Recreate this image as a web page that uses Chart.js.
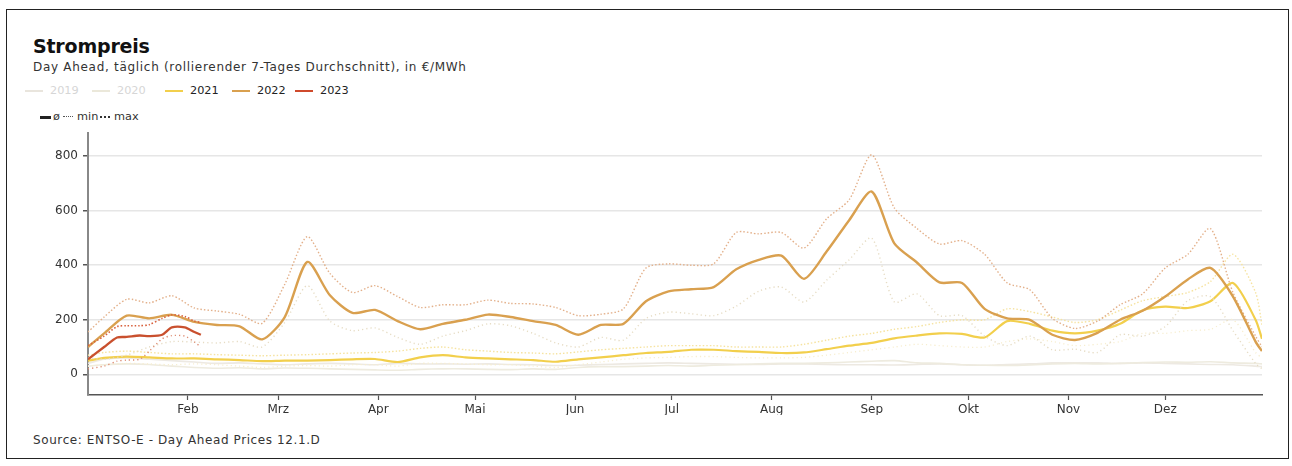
<!DOCTYPE html>
<html><head><meta charset="utf-8">
<script src="https://cdn.jsdelivr.net/npm/chart.js@4.4.1/dist/chart.umd.min.js"></script>
<style>
html,body{margin:0;padding:0;background:#fff;}
body{width:1292px;height:466px;position:relative;overflow:hidden;font-family:"DejaVu Sans",sans-serif;color:#222;}
#frame{position:absolute;left:6px;top:9px;width:1283px;height:450px;border:1px solid #222;box-sizing:border-box;}
#title{position:absolute;left:33px;top:34px;font-weight:bold;font-size:19px;line-height:24px;color:#111;letter-spacing:-0.2px;}
#sub{position:absolute;left:33px;top:59px;font-size:12px;line-height:16px;color:#333;white-space:nowrap;letter-spacing:0.7px;}
.leg{position:absolute;font-size:11.3px;line-height:14px;white-space:nowrap;}
.sw{position:absolute;height:0;}
#src{position:absolute;left:33px;top:433px;font-size:12px;line-height:14px;color:#333;letter-spacing:0.6px;white-space:nowrap;}
#wrap{position:absolute;left:0;top:0;width:1292px;height:466px;}
</style></head>
<body>
<div id="frame"></div>
<div id="title">Strompreis</div>
<div id="sub">Day Ahead, täglich (rollierender 7-Tages Durchschnitt), in €/MWh</div>
<div id="legend"></div>
<div id="src">Source: ENTSO-E - Day Ahead Prices 12.1.D</div>
<div id="wrap"><canvas id="c" width="1292" height="466"></canvas></div>
<script>
// ---- data (day of year, €/MWh) ----
const days = [0,5,12,19,26,33,40,47,54,61,68,75,82,89,96,103,110,117,124,131,138,145,152,159,166,173,180,187,194,201,208,215,222,229,236,243,250,257,264,271,278,285,292,299,306,313,320,327,334,341,348,355,362,364];
const avg2022 = [100,150,215,205,218,192,181,176,128,210,412,290,225,236,195,165,185,200,219,210,195,181,145,181,185,268,304,312,320,385,420,435,350,450,565,670,480,410,337,335,240,205,200,145,126,152,200,233,285,348,390,285,120,85];
const max2022 = [155,210,275,262,288,243,232,220,187,330,505,370,300,325,285,245,255,255,272,260,258,245,215,220,240,390,405,400,405,520,515,520,463,570,640,805,610,535,478,490,440,335,310,205,168,195,255,295,390,440,535,300,140,100];
const min2022 = [60,55,70,100,120,118,115,120,100,190,325,195,160,170,135,110,140,160,185,178,150,115,100,135,125,205,228,222,215,250,305,320,265,345,420,500,265,295,215,215,140,105,140,90,92,80,145,140,175,270,285,160,40,20];
const avg2021 = [50,60,65,62,58,58,55,52,48,50,50,52,55,56,45,62,70,62,58,55,52,46,55,62,70,78,82,90,90,85,82,78,80,92,105,115,132,142,150,148,135,195,185,160,150,160,185,235,248,243,268,335,200,130];
const max2021 = [70,80,85,80,75,75,72,70,68,70,72,75,78,80,85,95,100,90,85,80,78,75,82,90,95,100,105,105,105,100,100,100,110,125,140,150,165,175,190,200,200,240,230,210,190,200,235,270,285,300,340,440,300,180];
const min2021 = [30,35,40,38,35,38,35,30,25,30,32,30,35,35,30,40,40,38,35,35,30,25,35,45,55,60,62,65,65,62,60,60,62,70,80,90,100,110,105,100,100,120,130,120,105,110,120,150,150,160,165,200,80,60];
const avg2020 = [30,35,38,36,30,25,22,24,20,23,22,20,18,16,15,18,20,20,18,17,20,18,25,28,28,30,32,30,33,35,38,40,40,42,45,48,50,42,40,35,33,32,34,38,40,38,40,43,45,44,46,42,40,38];
const avg2019 = [40,55,60,55,50,45,40,42,38,35,38,40,38,35,40,38,38,37,38,36,35,32,33,36,38,40,42,40,38,37,36,38,38,36,35,35,34,36,38,35,33,36,38,42,42,42,40,42,40,38,36,35,30,28];
const days2023 = [0,5,9,12,16,19,23,26,30,33,35];
const avg2023 = [55,100,135,137,142,140,145,172,172,155,145];
const max2023 = [105,140,175,178,178,182,205,218,212,195,190];
const min2023 = [20,30,48,52,55,85,130,142,140,118,100];
const monthStarts = [31,59,90,120,151,181,212,243,273,304,334];
const monthLabels = ['Feb','Mrz','Apr','Mai','Jun','Jul','Aug','Sep','Okt','Nov','Dez'];
const yTicks = [0,200,400,600,800];
const years = ['2019','2020','2021','2022','2023'];
const yearColors = ['#e9e5dd','#ebe8da','#f2cf4c','#d9a04f','#cf4a2c'];
const yearText = ['#d6d6d6','#d6d6d6','#222','#222','#222'];

// ---- legend ----
const leg = document.getElementById('legend');
const textX = [50,117,190,257,320];
years.forEach((y,i)=>{
  const sw = document.createElement('div');
  sw.className='sw';
  sw.style.cssText = `left:${textX[i]-25}px;top:90px;width:18px;border-top:2px solid ${yearColors[i]};`;
  leg.appendChild(sw);
  const t = document.createElement('div');
  t.className='leg'; t.textContent=y;
  t.style.cssText=`left:${textX[i]}px;top:84px;color:${yearText[i]};`;
  leg.appendChild(t);
});
const row2 = [
  {x:40,w:11,style:'3px solid #222',label:'ø',tx:53},
  {x:63,w:10,style:'1.5px dotted #555',label:'min',tx:77},
  {x:100,w:10,style:'2px dotted #333',label:'max',tx:114}
];
row2.forEach(r=>{
  const sw=document.createElement('div'); sw.className='sw';
  sw.style.cssText=`left:${r.x}px;top:116px;width:${r.w}px;border-top:${r.style};`;
  leg.appendChild(sw);
  const t=document.createElement('div'); t.className='leg'; t.textContent=r.label;
  t.style.cssText=`left:${r.tx}px;top:110px;color:#333;`;
  leg.appendChild(t);
});

// ---- chart ----
const pts = (xs, ys) => ys.map((v,i)=>({x:xs[i], y:v}));
function ds(label, xs, ys, color, width, dash){
  return {label, data: pts(xs, ys), borderColor: color, borderWidth: width,
    borderDash: dash || [], pointRadius: 0, tension: 0.25, fill: false};
}
const datasets = [
  ds('2023 ø', days2023, avg2023, '#c9502e', 2.4),
  ds('2023 max', days2023, max2023, '#d8603c', 1.6, [1.5,2]),
  ds('2023 min', days2023, min2023, '#dd8a70', 1.4, [1.2,3]),
  ds('2022 ø', days, avg2022, '#d9a04f', 2.4),
  ds('2022 max', days, max2022, '#e3b08a', 1.4, [1.5,2]),
  ds('2022 min', days, min2022, '#e6dcc4', 1.4, [1.2,3]),
  ds('2021 ø', days, avg2021, '#f2cf4c', 2.2),
  ds('2021 max', days, max2021, '#f6e3a0', 1.4, [1.5,2]),
  ds('2021 min', days, min2021, '#f7eed0', 1.3, [1.2,3]),
  ds('2020 ø', days, avg2020, '#eeebdf', 1.6),
  ds('2019 ø', days, avg2019, '#ede9e2', 1.6)
];

new Chart(document.getElementById('c'), {
  type: 'line',
  data: { datasets },
  options: {
    responsive: false, animation: false,
    layout: { padding: { left: 48, right: 30, top: 133, bottom: 51 } },
    plugins: { legend: { display: false }, tooltip: { enabled: false } },
    scales: {
      x: {
        type: 'linear', min: 0, max: 364,
        afterBuildTicks: s => { s.ticks = monthStarts.map(v => ({ value: v })); },
        afterFit: s => { s.height = 20; },
        ticks: { autoSkip: false, maxRotation: 0, padding: 3, color: '#333',
          font: { family: 'DejaVu Sans', size: 12 },
          callback: v => monthLabels[monthStarts.indexOf(v)] },
        grid: { drawOnChartArea: false, drawTicks: true, tickLength: 5, tickColor: '#555', tickWidth: 1.2 },
        border: { color: '#555', width: 1.5 }
      },
      y: {
        type: 'linear', min: -76, max: 885,
        afterBuildTicks: s => { s.ticks = yTicks.map(v => ({ value: v })); },
        afterFit: s => { s.width = 40; },
        ticks: { padding: 5, color: '#333', font: { family: 'DejaVu Sans', size: 12 } },
        grid: { color: '#e6e6e6', lineWidth: 1.5, tickLength: 5, tickColor: '#555', tickWidth: 1.5 },
        border: { color: '#888', width: 2 }
      }
    }
  }
});
</script>
</body></html>
